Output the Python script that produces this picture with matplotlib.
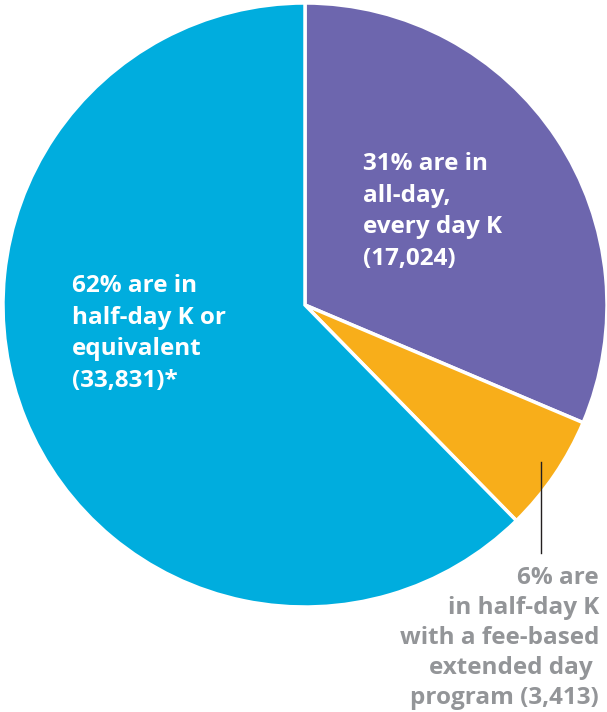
import matplotlib.pyplot as plt

W, H = 607, 712
CENTER, RADIUS = (305, 305), 302

labels = ["all-day, every day K", "half-day K with fee-based extended day", "half-day K or equivalent"]
counts = [17024, 3413, 33831]
colors = ["#6D66AE", "#F8AE1A", "#00ADDE"]

purple_text = "31% are in\nall-day,\nevery day K\n(17,024)"
blue_text = "62% are in\nhalf-day K or\nequivalent\n(33,831)*"
gray_text = "6% are\nin half-day K\nwith a fee-based\nextended day \nprogram (3,413)"

plt.rcParams['font.family'] = ['Open Sans', 'DejaVu Sans']

fig = plt.figure(figsize=(W / 100, H / 100), dpi=100)
ax = fig.add_axes([0, 0, 1, 1])

def fy(y):
    return H - y

ax.pie(counts, colors=colors, startangle=90, counterclock=False,
       center=(CENTER[0], fy(CENTER[1])), radius=RADIUS,
       wedgeprops=dict(edgecolor='white', linewidth=2.5))
ax.set_xlim(0, W)
ax.set_ylim(0, H)
ax.set_aspect('equal')
ax.axis('off')

ax.text(363, fy(152), purple_text, color='white', fontsize=17.5, fontweight='bold',
        ha='left', va='top', linespacing=1.43)
ax.text(72, fy(274), blue_text, color='white', fontsize=17.5, fontweight='bold',
        ha='left', va='top', linespacing=1.43)
ax.text(599, fy(566), gray_text, color='#939598', fontsize=17.5, fontweight='bold',
        ha='right', va='top', linespacing=1.33)

ax.plot([541, 541], [fy(462), fy(553)], color='#231F20', linewidth=1)

fig.savefig('out.png', dpi=100)
